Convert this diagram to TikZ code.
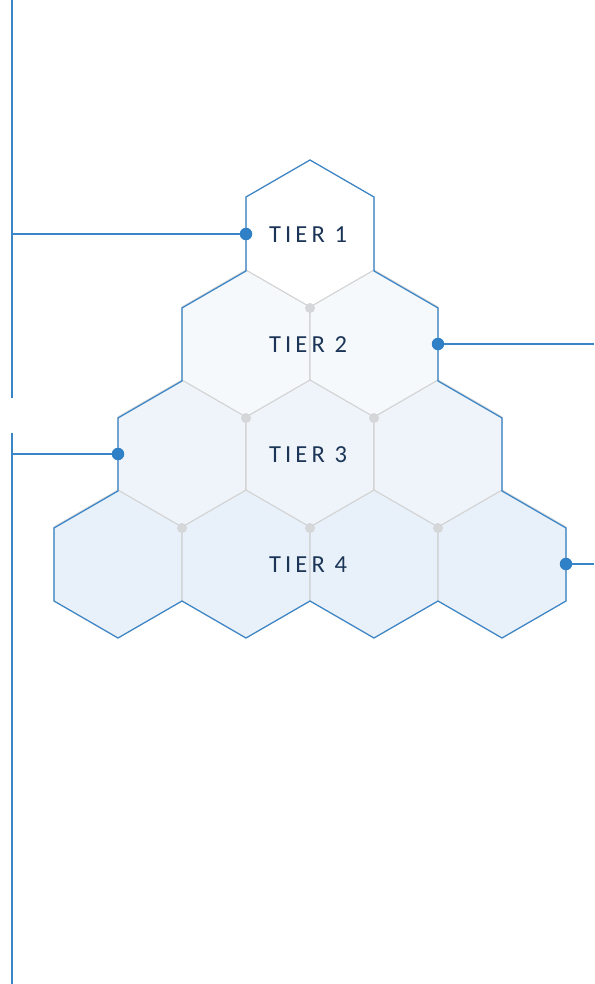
\documentclass[tikz,border=0pt]{standalone}
\usepackage{fontspec}
\setmainfont{Carlito}
\newfontfamily\tierfont[LetterSpace=17]{Carlito}
\definecolor{edgeblue}{HTML}{3A85C8}
\definecolor{dotblue}{HTML}{2F80C6}
\definecolor{innergray}{HTML}{D2D2D2}
\definecolor{dotgray}{HTML}{D5D6D8}
\definecolor{navy}{HTML}{1C3557}
\definecolor{fillA}{HTML}{FFFFFF}
\definecolor{fillB}{HTML}{F5F9FC}
\definecolor{fillC}{HTML}{EFF4FA}
\definecolor{fillD}{HTML}{E8F1F9}
\newcommand{\hexcell}[3]{%
  \fill[#3] (#1,#2-74) -- (#1+64,#2-37) -- (#1+64,#2+37) -- (#1,#2+74) -- (#1-64,#2+37) -- (#1-64,#2-37) -- cycle;
  \draw[innerline] (#1,#2-74) -- (#1+64,#2-37) -- (#1+64,#2+37) -- (#1,#2+74) -- (#1-64,#2+37) -- (#1-64,#2-37) -- cycle;}
\tikzset{
  innerline/.style={draw=innergray, line width=1.1pt},
  outline/.style={draw=edgeblue, line width=1.2pt, line join=miter},
  connector/.style={draw=edgeblue, line width=1.2pt},
  bluedot/.style={circle, fill=dotblue, inner sep=0pt, minimum size=12.5pt},
  graydot/.style={circle, fill=dotgray, inner sep=0pt, minimum size=10pt},
  tierlabel/.style={font=\tierfont\fontsize{24.5}{28}\selectfont, text=navy, inner sep=0pt}
}
\begin{document}
\begin{tikzpicture}[x=1pt,y=-1pt]
\useasboundingbox (0,0) rectangle (594,984);
% hexagons
\hexcell{310}{234}{fillA}
\hexcell{246}{344}{fillB}
\hexcell{374}{344}{fillB}
\hexcell{182}{454}{fillC}
\hexcell{310}{454}{fillC}
\hexcell{438}{454}{fillC}
\hexcell{118}{564}{fillD}
\hexcell{246}{564}{fillD}
\hexcell{374}{564}{fillD}
\hexcell{502}{564}{fillD}
% outer outline
\draw[outline] (310,160) -- (374,197) -- (374,271) -- (438,308) -- (438,381) -- (502,418) -- (502,491) -- (566,528) -- (566,601) -- (502,638) -- (438,601) -- (374,638) -- (310,601) -- (246,638) -- (182,601) -- (118,638) -- (54,601) -- (54,528) -- (118,491) -- (118,418) -- (182,381) -- (182,308) -- (246,271) -- (246,197) -- cycle;
% gray junction dots
\node[graydot] (g1) at (310,308) {};
\node[graydot] (g2) at (246,418) {};
\node[graydot] (g3) at (374,418) {};
\node[graydot] (g4) at (182,528) {};
\node[graydot] (g5) at (310,528) {};
\node[graydot] (g6) at (438,528) {};
% labels
\node[tierlabel] (t1) at (308,235) {TIER 1};
\node[tierlabel] (t2) at (308,345) {TIER 2};
\node[tierlabel] (t3) at (308,455) {TIER 3};
\node[tierlabel] (t4) at (308,565) {TIER 4};
% side lines
\coordinate (vA1) at (12,0);
\coordinate (vA2) at (12,398);
\coordinate (vB1) at (12,433);
\coordinate (vB2) at (12,984);
\draw[connector] (vA1) -- (vA2);
\draw[connector] (vB1) -- (vB2);
% connectors and blue dots
\coordinate (e1) at (12,234);
\coordinate (e2) at (594,344);
\coordinate (e3) at (12,454);
\coordinate (e4) at (594,564);
\node[bluedot] (b1) at (246,234) {};
\node[bluedot] (b2) at (438,344) {};
\node[bluedot] (b3) at (118,454) {};
\node[bluedot] (b4) at (566,564) {};
\draw[connector] (e1) -- (b1);
\draw[connector] (b2) -- (e2);
\draw[connector] (e3) -- (b3);
\draw[connector] (b4) -- (e4);
\end{tikzpicture}
\end{document}
